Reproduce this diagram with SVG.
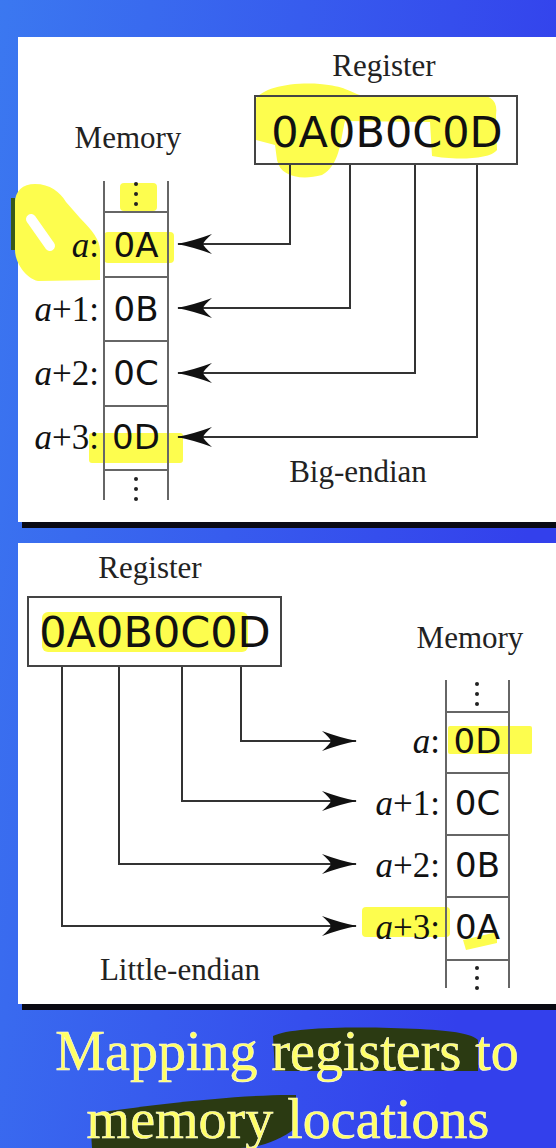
<svg xmlns="http://www.w3.org/2000/svg" width="556" height="1148" viewBox="0 0 556 1148">
  <defs>
    <linearGradient id="bg" x1="0" y1="0" x2="1" y2="0.3">
      <stop offset="0" stop-color="#3b78f0"/>
      <stop offset="1" stop-color="#3340ec"/>
    </linearGradient>
    <marker id="ah" viewBox="-36 -12 38 24" refX="0" refY="0" markerWidth="38" markerHeight="24" markerUnits="userSpaceOnUse" orient="auto">
      <path d="M1,0 Q-15,-3 -34,-10 Q-26,-3 -25,0 Q-26,3 -34,10 Q-15,3 1,0 Z" fill="#111"/>
    </marker>
    <style>
      .lbl { font-family: "Liberation Serif", "Times New Roman", serif; font-size: 31px; fill: #222; text-anchor: middle; }
      .addr { font-family: "Liberation Serif", "Times New Roman", serif; font-size: 35px; fill: #111; text-anchor: end; }
      .cell { font-family: "DejaVu Sans", sans-serif; font-size: 34px; fill: #111; text-anchor: middle; }
      .reg { font-family: "DejaVu Sans", sans-serif; font-size: 43px; fill: #111; text-anchor: middle; }
      .box { fill: none; stroke: #444; stroke-width: 2; }
      .col { stroke: #666; stroke-width: 2; fill: none; }
      .conn { fill: none; stroke: #333; stroke-width: 2; marker-end: url(#ah); }
      .hl { fill: #fdfd4e; }
      .gr { fill: #2b3a12; }
      .cap { font-family: "Liberation Serif", "Times New Roman", serif; font-size: 56px; fill: #ffff66; stroke: #fffbe0; stroke-width: 0.6; text-anchor: middle; }
      .dot { fill: #222; }
    </style>
  </defs>

  <rect width="556" height="1148" fill="url(#bg)"/>

  <!-- panels -->
  <g id="panel-big">
    <rect x="22" y="521" width="534" height="7" fill="#0a0a14"/>
    <rect x="18" y="37" width="538" height="485" fill="#ffffff"/>
  </g>
  <g id="panel-little">
    <rect x="22" y="1003" width="534" height="7" fill="#0a0a14"/>
    <rect x="18" y="543" width="538" height="461" fill="#ffffff"/>
  </g>

  <!-- highlights -->
  <g id="highlights">
    <path class="hl" d="M15,205 C14,192 22,184 35,184 C50,184 60,192 66,202 L80,218 C92,230 100,240 100,250 L100,280 L38,281 C25,278 15,262 15,250 Z"/>
    <path d="M31,219 L50,246" stroke="#ffffff" stroke-width="10" stroke-linecap="round"/>
    <path d="M13,198 L13,250" stroke="#3a5a18" stroke-width="4"/>
    <rect class="hl" x="120" y="183" width="37" height="28" rx="4"/>
    <rect class="hl" x="104" y="232" width="70" height="31" rx="4"/>
    <path class="hl" d="M255,100 C262,88 290,82 320,84 C345,86 350,92 360,95 L478,95 C492,95 498,102 496,115 L497,150 C490,160 452,160 432,156 L430,122 L345,121 C340,142 340,165 322,175 C300,181 280,176 277,160 L275,145 L256,140 Z"/>
    <rect class="hl" x="89" y="433" width="94" height="30" rx="3"/>
    <rect class="hl" x="42" y="612" width="206" height="40" rx="6"/>
    <rect class="hl" x="448" y="726" width="84" height="28" rx="2"/>
    <rect class="hl" x="362" y="907" width="88" height="30" rx="4"/>
    <path class="hl" d="M463,940 L497,932 L497,943 L466,950 Z"/>
  </g>

  <!-- top: big-endian -->
  <g id="big-register">
    <text class="lbl" x="384" y="76">Register</text>
    <rect class="box" x="255" y="96" width="262" height="68"/>
    <text class="reg" x="387" y="147">0A0B0C0D</text>
  </g>
  <g id="big-memory">
    <text class="lbl" x="128" y="148">Memory</text>
    <path class="col" d="M104,181 V500 M168,181 V500 M104,212 H168 M104,277 H168 M104,341 H168 M104,406 H168 M104,470 H168"/>
    <circle class="dot" cx="136" cy="184" r="2"/><circle class="dot" cx="136" cy="194" r="2"/><circle class="dot" cx="136" cy="204" r="2"/>
    <circle class="dot" cx="136" cy="479" r="2"/><circle class="dot" cx="136" cy="489" r="2"/><circle class="dot" cx="136" cy="499" r="2"/>
    <text class="cell" x="136" y="257">0A</text>
    <text class="cell" x="136" y="321">0B</text>
    <text class="cell" x="136" y="385">0C</text>
    <text class="cell" x="136" y="449">0D</text>
    <text class="addr" x="99" y="257"><tspan font-style="italic">a</tspan>:</text>
    <text class="addr" x="99" y="321"><tspan font-style="italic">a</tspan>+1:</text>
    <text class="addr" x="99" y="385"><tspan font-style="italic">a</tspan>+2:</text>
    <text class="addr" x="99" y="449"><tspan font-style="italic">a</tspan>+3:</text>
  </g>
  <g id="big-caption">
    <text class="lbl" x="358" y="482">Big-endian</text>
  </g>

  <!-- bottom: little-endian -->
  <g id="little-register">
    <text class="lbl" x="150" y="578">Register</text>
    <rect class="box" x="28" y="597" width="253" height="69"/>
    <text class="reg" x="155" y="647">0A0B0C0D</text>
  </g>
  <g id="little-memory">
    <text class="lbl" x="470" y="648">Memory</text>
    <path class="col" d="M446,680 V988 M509,680 V988 M446,712 H509 M446,773 H509 M446,835 H509 M446,897 H509 M446,960 H509"/>
    <circle class="dot" cx="477" cy="684" r="2"/><circle class="dot" cx="477" cy="694" r="2"/><circle class="dot" cx="477" cy="704" r="2"/>
    <circle class="dot" cx="477" cy="968" r="2"/><circle class="dot" cx="477" cy="978" r="2"/><circle class="dot" cx="477" cy="988" r="2"/>
    <text class="cell" x="477.5" y="753">0D</text>
    <text class="cell" x="477.5" y="815">0C</text>
    <text class="cell" x="477.5" y="877">0B</text>
    <text class="cell" x="477.5" y="939">0A</text>
    <text class="addr" x="440" y="753"><tspan font-style="italic">a</tspan>:</text>
    <text class="addr" x="440" y="815"><tspan font-style="italic">a</tspan>+1:</text>
    <text class="addr" x="440" y="877"><tspan font-style="italic">a</tspan>+2:</text>
    <text class="addr" x="440" y="939"><tspan font-style="italic">a</tspan>+3:</text>
  </g>
  <g id="little-caption">
    <text class="lbl" x="180" y="980">Little-endian</text>
  </g>

  <!-- connectors -->
  <g id="connectors">
    <path class="conn" d="M290,165 V244 H178"/>
    <path class="conn" d="M350,165 V308 H178"/>
    <path class="conn" d="M415,165 V373 H178"/>
    <path class="conn" d="M477,165 V437 H178"/>
    <path class="conn" d="M241,667 V741 H356"/>
    <path class="conn" d="M182,667 V801 H356"/>
    <path class="conn" d="M119,667 V864 H356"/>
    <path class="conn" d="M62,667 V926 H356"/>
  </g>

  <!-- slide title -->
  <g id="title">
    <path class="gr" d="M273,1036 C290,1027 360,1026 420,1029 C455,1031 472,1034 478,1040 L478,1071 L275,1071 Z"/>
    <path class="gr" d="M90,1114 C140,1106 240,1094 296,1095 L296,1128 C280,1140 260,1148 240,1148 L92,1148 Z"/>
    <text class="cap" x="287" y="1070">Mapping registers to</text>
    <text class="cap" x="288" y="1138">memory locations</text>
  </g>
</svg>
